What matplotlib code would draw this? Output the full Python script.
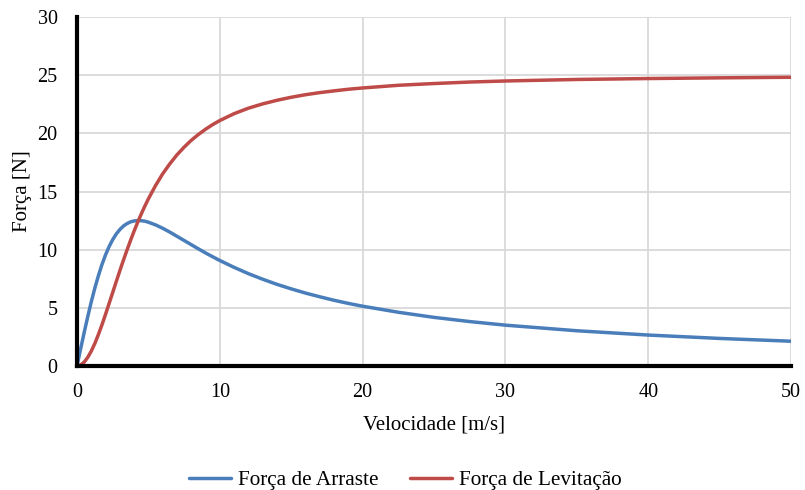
import matplotlib
matplotlib.use("Agg")
import matplotlib.pyplot as plt

plt.rcParams['font.family'] = ['Liberation Serif', 'DejaVu Serif']

velocidade = [0, 0.25, 0.5, 0.75, 1, 1.25, 1.5, 1.75, 2, 2.25, 2.5, 2.75, 3, 3.25, 3.5,
              3.75, 4, 4.25, 4.5, 4.75, 5, 5.5, 6, 6.5, 7, 7.5, 8, 8.5, 9, 9.5,
              10, 11, 12, 13, 14, 15, 16, 17, 18, 19, 20, 22.5, 25, 27.5, 30, 35, 40, 45, 50]
arraste = [0, 1.45, 2.87, 4.23, 5.52, 6.70, 7.77, 8.73, 9.56, 10.27, 10.86, 11.35, 11.73,
           12.03, 12.24, 12.39, 12.47, 12.50, 12.49, 12.45, 12.36, 12.13, 11.84, 11.51,
           11.15, 10.79, 10.43, 10.07, 9.72, 9.39, 9.07, 8.48, 7.94, 7.46, 7.02, 6.63,
           6.27, 5.95, 5.65, 5.38, 5.14, 4.62, 4.18, 3.82, 3.51, 3.03, 2.66, 2.37, 2.13]
levitacao = [0, 0.08, 0.33, 0.74, 1.28, 1.94, 2.71, 3.55, 4.45, 5.38, 6.32, 7.26, 8.19,
             9.09, 9.96, 10.80, 11.60, 12.36, 13.07, 13.74, 14.37, 15.51, 16.52, 17.38,
             18.15, 18.81, 19.40, 19.90, 20.35, 20.75, 21.10, 21.69, 22.16, 22.53, 22.84,
             23.10, 23.32, 23.50, 23.65, 23.79, 23.90, 24.13, 24.28, 24.41, 24.50, 24.63,
             24.71, 24.77, 24.82]

x_ticks = [0, 10, 20, 30, 40, 50]
y_ticks = [0, 5, 10, 15, 20, 25, 30]

fig = plt.figure(figsize=(8.05, 4.9), dpi=100)
ax = fig.add_axes([77/805, 1 - 366/490, (791 - 77)/805, (366 - 17)/490])

ax.plot(velocidade, arraste, color='#4A7EBB', lw=2.5, label='Força de Arraste',
        solid_capstyle='round', solid_joinstyle='round', zorder=3)
ax.plot(velocidade, levitacao, color='#BE4B48', lw=2.5, label='Força de Levitação',
        solid_capstyle='round', solid_joinstyle='round', zorder=4)

ax.set_xlim(0, 50)
ax.set_ylim(0, 30)
ax.set_xticks(x_ticks)
ax.set_yticks(y_ticks)
ax.grid(True, color='#D9D9D9', lw=1.3, zorder=0)
ax.set_axisbelow(True)

for s in ['top', 'right']:
    ax.spines[s].set_visible(False)
for s in ['left', 'bottom']:
    ax.spines[s].set_linewidth(3)
    ax.spines[s].set_color('black')
    ax.spines[s].set_zorder(5)

ax.tick_params(axis='both', length=0, labelsize=14.5, colors='#000000')
ax.tick_params(axis='x', pad=12)
ax.tick_params(axis='y', pad=14)

ax.set_xlabel('Velocidade [m/s]', fontsize=15, labelpad=10)
ax.set_ylabel('Força [N]', fontsize=15, labelpad=4)

leg = fig.legend(loc='center', bbox_to_anchor=(405/805, 1 - 480/490), ncol=2,
                 frameon=False, fontsize=15.3, handlelength=2.0, columnspacing=1.5,
                 handletextpad=0.3)

fig.savefig('out.png', dpi=100)
